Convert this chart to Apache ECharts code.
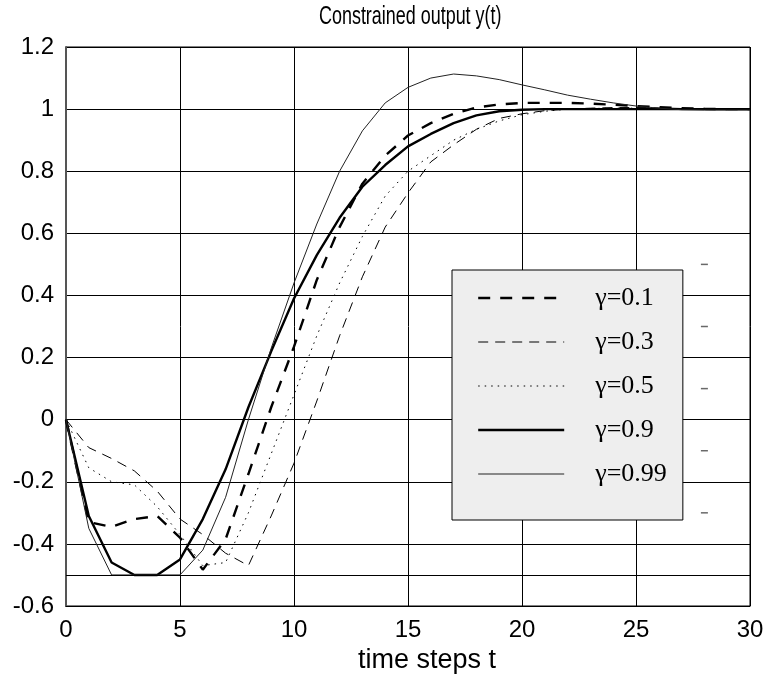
<!DOCTYPE html>
<html>
<head>
<meta charset="utf-8">
<title>Constrained output y(t)</title>
<script src="https://cdn.jsdelivr.net/npm/echarts@6/dist/echarts.min.js"></script>
<style>
  html, body { margin: 0; padding: 0; background: #fff; }
  #chart { width: 769px; height: 686px; }
</style>
</head>
<body>
<div id="chart"></div>
<script>
// time axis: discrete steps 0..30
const timeSteps = [0, 1, 2, 3, 4, 5, 6, 7, 8, 9, 10, 11, 12, 13, 14, 15,
                   16, 17, 18, 19, 20, 21, 22, 23, 24, 25, 26, 27, 28, 29, 30];

// constrained output y(t) for each weighting factor gamma
const yGamma01 = [0, -0.33, -0.345, -0.32, -0.31, -0.38, -0.483, -0.385, -0.175, 0.04, 0.235,
                  0.45, 0.62, 0.76, 0.85, 0.915, 0.955, 0.985, 1.005, 1.015, 1.02,
                  1.02, 1.02, 1.018, 1.014, 1.01, 1.006, 1.003, 1.001, 1.0, 1.0];
const yGamma03 = [0, -0.09, -0.125, -0.165, -0.23, -0.32, -0.37, -0.43, -0.47, -0.31, -0.14,
                  0.06, 0.27, 0.46, 0.62, 0.73, 0.83, 0.885, 0.935, 0.97, 0.985,
                  0.995, 1.0, 1.003, 1.005, 1.005, 1.004, 1.002, 1.0, 1.0, 1.0];
const yGamma05 = [0, -0.155, -0.2, -0.21, -0.28, -0.37, -0.47, -0.46, -0.3, -0.11, 0.08,
                  0.27, 0.44, 0.59, 0.72, 0.80, 0.85, 0.90, 0.935, 0.962, 0.982,
                  0.993, 1.0, 1.002, 1.003, 1.003, 1.002, 1.001, 1.0, 1.0, 1.0];
const yGamma09 = [0, -0.31, -0.46, -0.5, -0.5, -0.45, -0.32, -0.16, 0.04, 0.22, 0.39,
                  0.53, 0.65, 0.75, 0.82, 0.88, 0.92, 0.955, 0.98, 0.993, 0.998,
                  1.0, 1.0, 1.0, 1.0, 1.0, 1.0, 1.0, 1.0, 1.0, 1.0];
const yGamma099 = [0, -0.35, -0.5, -0.5, -0.5, -0.5, -0.42, -0.25, 0.0, 0.23, 0.44,
                   0.63, 0.80, 0.93, 1.02, 1.07, 1.10, 1.113, 1.107, 1.095, 1.078,
                   1.062, 1.045, 1.032, 1.02, 1.01, 1.003, 0.998, 0.997, 0.997, 0.997];

const seriesNames = ['γ=0.1', 'γ=0.3', 'γ=0.5', 'γ=0.9', 'γ=0.99'];

// lower output constraint
const outputLimit = -0.5;

// small stray dash marks to the right of the legend
const dashMarkT = [28, 28, 28, 28, 28];
const dashMarkY = [0.5, 0.3, 0.1, -0.1, -0.3];

const pair = ys => timeSteps.map((t, i) => [t, ys[i]]);

const sans = "'Liberation Sans', Arial, Helvetica, sans-serif";
const serif = "'Liberation Serif', 'Times New Roman', Times, serif";

// line style per curve: width, dash pattern, colour
const styles = [
  { width: 2.4, type: [12, 10], color: '#000' },
  { width: 1, type: [10, 7], color: '#000' },
  { width: 1, type: [1.5, 5], color: '#000' },
  { width: 2.4, type: 'solid', color: '#000' },
  { width: 1, type: 'solid', color: '#222' }
];
const curves = [yGamma01, yGamma03, yGamma05, yGamma09, yGamma099];

const series = curves.map((ys, k) => ({
  name: seriesNames[k],
  type: 'line',
  data: pair(ys),
  symbol: 'none',
  showSymbol: false,
  smooth: false,
  z: 3,
  itemStyle: { color: styles[k].color },
  lineStyle: { color: styles[k].color, width: styles[k].width, type: styles[k].type }
}));

series[3].markLine = {
  silent: true,
  symbol: ['none', 'none'],
  label: { show: false },
  lineStyle: { color: '#000', width: 1, type: 'solid' },
  data: [{ yAxis: outputLimit }]
};

series.push({
  name: 'marks',
  type: 'scatter',
  data: dashMarkT.map((t, i) => [t, dashMarkY[i]]),
  symbol: 'rect',
  symbolSize: [7, 1.5],
  itemStyle: { color: '#444' },
  silent: true,
  z: 4
});

const chart = echarts.init(document.getElementById('chart'), null, { renderer: 'canvas' });

chart.setOption({
  animation: false,
  backgroundColor: '#fff',
  // narrow-set title text
  graphic: [{
    type: 'text',
    x: 319,
    y: 4,
    scaleX: 0.69,
    silent: true,
    style: {
      text: 'Constrained output y(t)',
      font: "26px 'Liberation Sans', Arial, sans-serif",
      fill: '#000',
      textAlign: 'left',
      textVerticalAlign: 'top'
    }
  }],
  grid: {
    left: 66, right: 19, top: 47, bottom: 80,
    show: true, borderColor: '#000', borderWidth: 1,
    containLabel: false
  },
  legend: {
    data: seriesNames.map((name, k) => ({
      name: name,
      lineStyle: { width: styles[k].width, type: styles[k].type, color: styles[k].color }
    })),
    orient: 'vertical',
    left: 452,
    top: 270,
    padding: [15, 16, 33, 25],
    itemWidth: 86,
    itemHeight: 14,
    itemGap: 18,
    backgroundColor: '#eeeeee',
    borderColor: '#000',
    borderWidth: 1,
    borderRadius: 0,
    selectedMode: false,
    // line samples only, no point marker on the sample
    itemStyle: { opacity: 0, borderWidth: 0 },
    textStyle: {
      fontFamily: serif, fontSize: 26, color: '#000', lineHeight: 26,
      padding: [0, 0, 0, 26]
    }
  },
  xAxis: {
    type: 'value',
    min: 0, max: 30, interval: 5,
    name: 'time steps t',
    nameLocation: 'middle',
    nameGap: 40,
    nameTextStyle: { fontFamily: sans, fontSize: 27, color: '#000', padding: [0, 0, 0, 38] },
    axisLine: { show: true, onZero: false, lineStyle: { color: '#000', width: 1 } },
    axisTick: { show: false },
    axisLabel: { fontFamily: sans, fontSize: 24, color: '#000', margin: 12 },
    splitLine: { show: true, lineStyle: { color: '#000', width: 1 } }
  },
  yAxis: {
    type: 'value',
    min: -0.6, max: 1.2, interval: 0.2,
    axisLine: { show: true, onZero: false, lineStyle: { color: '#555', width: 2 } },
    axisTick: { show: false },
    axisLabel: {
      fontFamily: sans, fontSize: 24, color: '#000', margin: 12,
      formatter: v => String(Math.round(v * 10) / 10)
    },
    splitLine: { show: true, lineStyle: { color: '#000', width: 1 } }
  },
  series: series
});
</script>
</body>
</html>
